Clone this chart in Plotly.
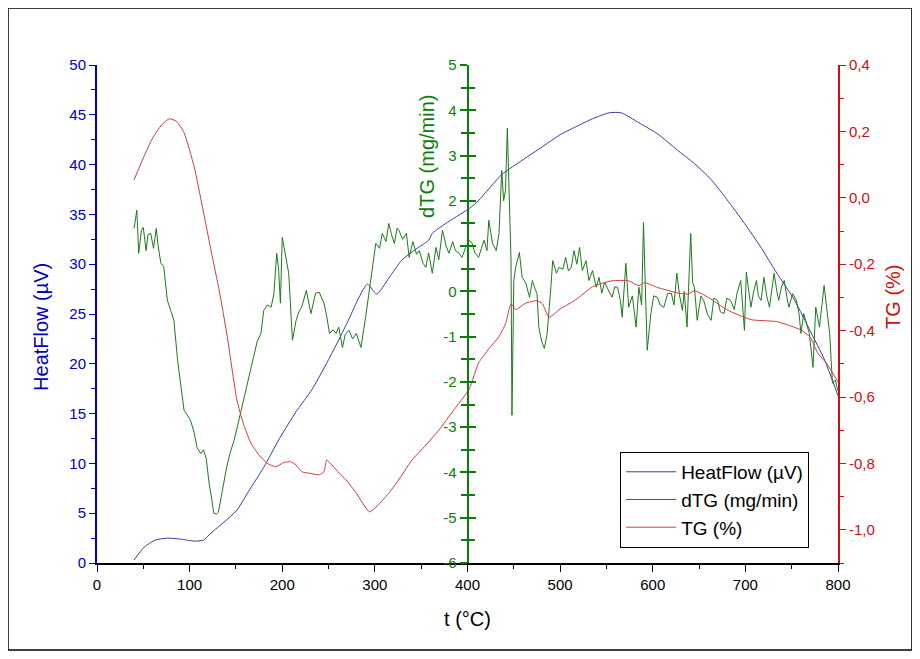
import plotly.graph_objects as go

# HeatFlow (uV) vs temperature
hf_t = [40, 51, 63, 76, 90, 105, 115, 123, 137, 151, 165, 180, 197, 215, 232,
        247, 261, 272, 283, 292, 302, 315, 329, 344, 358, 362, 380, 402, 412, 437,
        460, 481, 500, 517, 535, 553, 566, 585, 605, 626, 645, 663, 680, 699, 716,
        734, 753, 771, 785, 800]
hf_v = [0.3, 1.6, 2.3, 2.5, 2.4, 2.2, 2.3, 3.0, 4.1, 5.3, 7.4, 9.6, 12.5, 15.2, 17.4,
        19.9, 22.4, 24.5, 26.7, 28.0, 27.0, 28.6, 30.4, 31.5, 32.4, 33.1, 34.3, 35.6, 36.4, 39.0,
        40.5, 41.8, 43.0, 43.8, 44.6, 45.2, 45.2, 44.2, 43.1, 41.5, 40.1, 38.5, 36.5, 34.1, 31.8,
        29.1, 26.4, 23.1, 20.5, 16.8]

# dTG (mg/min)
dtg_t = [40, 43, 45, 48, 50, 53, 55, 58, 61, 64,
         66, 69, 72, 76, 80, 83, 87, 91, 94, 98,
         101, 105, 108, 112, 115, 118, 121, 124, 126, 129,
         131, 134, 137, 140, 144, 148, 152, 155, 159, 162,
         166, 170, 173, 177, 180, 184, 188, 191, 194, 196,
         198, 200, 203, 207, 211, 215, 218, 221, 226, 231,
         236, 240, 245, 248, 251, 255, 258, 261, 265, 268,
         272, 276, 280, 285, 290, 294, 297, 301, 305, 308,
         312, 315, 318, 321, 324, 326, 330, 334, 337, 341,
         345, 348, 352, 355, 358, 362, 366, 369, 373, 377,
         380, 384, 387, 391, 394, 398, 402, 405, 408, 412,
         415, 418, 421, 423, 427, 431, 434, 437, 439, 441,
         443, 445, 447, 448, 450, 452, 456, 459, 463, 467,
         470, 473, 475, 477, 480, 483, 486, 490, 492, 496,
         499, 503, 506, 509, 512, 515, 518, 521, 524, 528,
         531, 535, 539, 542, 545, 548, 551, 554, 556, 559,
         562, 565, 567, 571, 574, 578, 582, 585, 588, 590,
         594, 598, 601, 605, 608, 612, 616, 620, 623, 626,
         629, 632, 634, 637, 641, 643, 645, 648, 652, 655,
         659, 663, 666, 670, 673, 677, 680, 684, 688, 691,
         695, 699, 701, 704, 706, 709, 712, 714, 717, 720,
         723, 726, 729, 731, 734, 736, 739, 742, 745, 747,
         751, 755, 758, 760, 763, 766, 769, 773, 776, 780,
         783, 785, 788, 791, 794, 797, 800]
dtg_v = [1.39, 1.79, 0.84, 1.35, 1.41, 0.9, 1.25, 1.28, 0.95, 1.39,
         1.0, 0.62, 0.55, -0.2, -0.45, -0.64, -1.52, -2.2, -2.63, -2.75,
         -2.85, -3.13, -3.45, -3.58, -3.5, -3.7, -4.24, -4.6, -4.9, -4.92,
         -4.88, -4.55, -4.2, -3.88, -3.55, -3.29, -2.95, -2.69, -2.35, -2.03,
         -1.75, -1.37, -1.1, -0.93, -0.42, -0.3, -0.35, -0.05, 0.84, 0.5,
         -0.26, 1.19, 0.85, 0.4, -1.08, -0.64, -0.45, -0.35, 0.02, -0.49,
         -0.04, -0.02, -0.26, -0.55, -0.93, -0.85, -0.93, -0.79, -1.24, -0.95,
         -0.86, -1.05, -0.93, -1.24, -0.57, 0.0, 0.4, 1.06, 0.95, 1.28,
         1.1, 1.5, 1.25, 1.06, 1.4, 1.35, 1.15, 1.28, 0.75, 1.1,
         0.82, 0.9, 0.62, 0.53, 0.85, 0.4, 0.97, 0.7, 1.35, 1.0,
         0.84, 1.1, 0.9, 0.84, 0.75, 0.97, 1.13, 1.06, 0.85, 0.75,
         0.95, 1.13, 0.9, 1.57, 1.06, 0.9, 1.28, 2.67, 2.0, 2.23,
         3.6, 1.85, 0.68, -2.74, 0.24, 0.53, 0.86, 0.31, 0.18, -0.13,
         0.24, 0.05, -0.04, -0.79, -1.1, -1.26, -0.93, 0.09, 0.68, 0.4,
         0.53, 0.49, 0.75, 0.45, 0.53, 0.9, 0.6, 0.97, 0.46, 0.68,
         0.24, 0.46, 0.09, 0.31, -0.04, 0.2, 0.09, -0.05, -0.13, 0.1,
         0.09, -0.2, -0.57, 0.62, -0.35, -0.1, -0.79, 0.09, -0.3, 1.52,
         -1.3, -0.49, -0.1, -0.13, -0.3, -0.35, -0.05, -0.04, -0.3, 0.4,
         -0.1, -0.42, 0.0, -0.79, 1.28, 0.2, 0.09, -0.64, -0.1, -0.2,
         -0.5, -0.64, -0.15, -0.2, -0.45, -0.49, -0.15, -0.2, -0.4, -0.04,
         0.24, -0.86, 0.42, -0.1, -0.35, 0.0, 0.24, -0.1, -0.2, 0.31,
         -0.1, -0.35, 0.1, 0.4, 0.0, -0.2, 0.1, 0.24, -0.15, -0.35,
         -0.05, -0.2, -0.5, -0.93, -0.49, -0.7, -0.93, -1.68, -0.35, -0.79,
         -0.3, 0.13, -0.4, -0.93, -2.03, -1.96, -2.2]

# TG (%)
tg_t = [40, 50, 60, 70, 78, 86, 94, 105, 114, 123, 132, 140, 151, 158, 166,
        175, 184, 193, 202, 209, 215, 221, 230, 240, 245, 248, 252, 260, 269, 280,
        294, 300, 315, 328, 340, 355, 369, 385, 402, 412, 423, 434, 441, 447, 452,
        463, 475, 481, 488, 500, 517, 535, 556, 574, 585, 591, 605, 626, 638, 645,
        660, 680, 706, 734, 760, 770, 778, 788, 800]
tg_v = [0.054, 0.12, 0.18, 0.22, 0.238, 0.23, 0.196, 0.093, -0.03, -0.157, -0.28, -0.407, -0.608, -0.68, -0.738,
        -0.775, -0.80, -0.81, -0.797, -0.795, -0.805, -0.825, -0.83, -0.834, -0.825, -0.79, -0.80, -0.825, -0.85, -0.89,
        -0.946, -0.935, -0.89, -0.84, -0.79, -0.745, -0.70, -0.64, -0.575, -0.497, -0.455, -0.418, -0.38, -0.319, -0.337,
        -0.317, -0.31, -0.32, -0.36, -0.335, -0.307, -0.268, -0.25, -0.25, -0.265, -0.256, -0.27, -0.286, -0.29, -0.28,
        -0.30, -0.337, -0.367, -0.373, -0.398, -0.42, -0.467, -0.50, -0.555]

dtg_ticks = [5, 4, 3, 2, 1, 0, -1, -2, -3, -4, -5, -6]
dtg_labels = ["5", "4", "3", "2", "", "0", "-1", "-2", "-3", "-4", "-5", "-6"]
tg_ticks = [0.4, 0.2, 0.0, -0.2, -0.4, -0.6, -0.8, -1.0]
tg_labels = ["0,4", "0,2", "0,0", "-0,2", "-0,4", "-0,6", "-0,8", "-1,0"]

BLUE = "#0000c0"
GREEN = "#0a7d0a"
RED = "#cc1010"
FONT = "Arial, Liberation Sans, sans-serif"

fig = go.Figure()
fig.add_trace(go.Scatter(x=hf_t, y=hf_v, mode="lines", name="HeatFlow (µV)",
                         line=dict(color="#3a3aa8", width=1, shape="spline", smoothing=0.6)))
fig.add_trace(go.Scatter(x=dtg_t, y=dtg_v, mode="lines", name="dTG (mg/min)",
                         line=dict(color="#1d7a1d", width=1), yaxis="y2"))
fig.add_trace(go.Scatter(x=tg_t, y=tg_v, mode="lines", name="TG (%)",
                         line=dict(color="#d23c3c", width=1, shape="spline", smoothing=0.5),
                         yaxis="y3"))
# helper so the crossing ticks of the dTG axis get drawn
fig.add_trace(go.Scatter(x=[None], y=[None], yaxis="y4", showlegend=False, hoverinfo="skip"))

# axis titles placed where the original has them
titles = [
    dict(text="HeatFlow (µV)", x=-0.0756, y=0.474, font=dict(color=BLUE, size=20)),
    dict(text="dTG (mg/min)", x=0.445, y=0.817, font=dict(color=GREEN, size=20)),
    dict(text="TG (%)", x=1.074, y=0.534, font=dict(color=RED, size=20)),
]
for t in titles:
    t.update(xref="paper", yref="paper", textangle=-90, showarrow=False,
             xanchor="center", yanchor="middle")

fig.update_layout(
    width=920, height=659,
    margin=dict(l=89, r=90, t=57, b=104),
    paper_bgcolor="white", plot_bgcolor="white",
    font=dict(family=FONT, size=15, color="black"),
    showlegend=True,
    legend=dict(x=0.706, y=0.223, xanchor="left", yanchor="top",
                bordercolor="black", borderwidth=1, bgcolor="white",
                font=dict(size=19), tracegroupgap=0, itemwidth=50),
    annotations=titles,
    xaxis=dict(range=[0, 800], dtick=100, showgrid=False, zeroline=False,
               showline=True, linecolor="black", linewidth=1.5,
               ticks="outside", ticklen=7, tickcolor="black",
               minor=dict(ticks="outside", dtick=50, ticklen=4, tickcolor="black"),
               title=dict(text="t (°C)", font=dict(size=20), standoff=20)),
    yaxis=dict(range=[0, 50], dtick=5, showgrid=False, zeroline=False,
               showline=True, linecolor=BLUE, linewidth=2,
               ticks="outside", ticklen=6, tickcolor=BLUE, tickfont=dict(color=BLUE),
               minor=dict(ticks="outside", dtick=2.5, ticklen=4, tickcolor=BLUE)),
    yaxis2=dict(range=[-6, 5], overlaying="y", anchor="free", position=0.5, side="left",
                showgrid=False, zeroline=False, showline=True, linecolor=GREEN, linewidth=2,
                tickvals=dtg_ticks, ticktext=dtg_labels,
                ticks="outside", ticklen=7, tickwidth=2, tickcolor=GREEN,
                tickfont=dict(color=GREEN),
                minor=dict(ticks="outside", dtick=0.5, ticklen=6, tickwidth=2, tickcolor=GREEN)),
    yaxis4=dict(range=[-6, 5], overlaying="y", anchor="free", position=0.5, side="left",
                showgrid=False, zeroline=False, showline=False, showticklabels=False,
                tickvals=dtg_ticks, ticks="inside", ticklen=7, tickwidth=2, tickcolor=GREEN,
                minor=dict(ticks="inside", dtick=0.5, ticklen=6, tickwidth=2, tickcolor=GREEN)),
    yaxis3=dict(range=[-1.1, 0.4], overlaying="y", anchor="x", side="right",
                showgrid=False, zeroline=False, showline=True, linecolor=RED, linewidth=2,
                tickvals=tg_ticks, ticktext=tg_labels,
                ticks="outside", ticklen=6, tickcolor=RED, tickfont=dict(color=RED),
                minor=dict(ticks="outside", dtick=0.1, ticklen=4, tickcolor=RED)),
    shapes=[dict(type="rect", xref="paper", yref="paper",
                 x0=-0.1201, x1=1.0998, y0=-0.1747, y1=1.1145,
                 line=dict(color="black", width=1.5), fillcolor="rgba(0,0,0,0)")],
)

fig.write_html("out.html")
